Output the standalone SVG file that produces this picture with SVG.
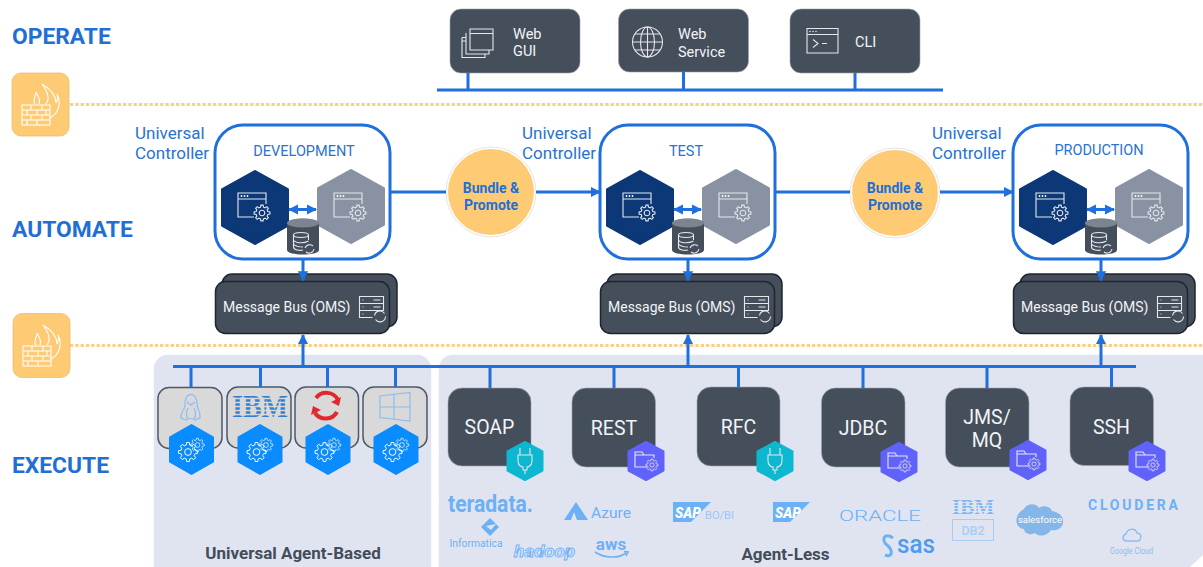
<svg xmlns="http://www.w3.org/2000/svg" xmlns:xlink="http://www.w3.org/1999/xlink" width="1203" height="567" viewBox="0 0 1203 567">
<style>
text{font-family:Roboto,"Liberation Sans",sans-serif}
.box{fill:#454e5b;stroke:#9aa2ad;stroke-width:.6}
.w{fill:#f2f4f7}
.mid{text-anchor:middle}
.head{fill:#1f6fd6;font-weight:700;font-size:22.8px}
.uc{fill:#2a72cf;font-size:17px}
.env{fill:#2a72cf;font-size:14.5px;text-anchor:middle}
.bp{fill:#1f6fd6;font-weight:700;font-size:14px;text-anchor:middle}
.bus{fill:#454e5b;stroke:#20262f;stroke-width:1.5}
.ln{stroke:#1f6fdc;stroke-width:3;fill:none}
.dot{stroke:#fdcf85;stroke-width:3;stroke-dasharray:3.3 2;fill:none}
.ic{fill:none;stroke:#e4e7ec;stroke-width:1.1;vector-effect:non-scaling-stroke}
.ics{fill:none;stroke:#fff;stroke-width:.8;vector-effect:non-scaling-stroke}
.logo{fill:#6cb0f6}
.lt{fill:none;stroke:#8dbcf0;stroke-width:1.2}
.tag{fill:#434c5a;font-weight:700;font-size:17px;text-anchor:middle}
.gb{fill:#d9d9d9;stroke:#4e5866;stroke-width:1.5}
</style>
<defs>
<marker id="ah" viewBox="0 0 10 10" refX="9" refY="5" markerWidth="3.4" markerHeight="3.4" orient="auto-start-reverse"><path d="M0 0L10 5L0 10Z" fill="#1f6fdc"/></marker>
<path id="gear" d="M5.82-1.45L7.92-1.11L7.92 1.11L5.82 1.45L5.14 3.09L6.39 4.81L4.81 6.39L3.09 5.14L1.45 5.82L1.11 7.92L-1.11 7.92L-1.45 5.82L-3.09 5.14L-4.81 6.39L-6.39 4.81L-5.14 3.09L-5.82 1.45L-7.92 1.11L-7.92-1.11L-5.82-1.45L-5.14-3.09L-6.39-4.81L-4.81-6.39L-3.09-5.14L-1.45-5.82L-1.11-7.92L1.11-7.92L1.45-5.82L3.09-5.14L4.81-6.39L6.39-4.81L5.14-3.09ZM2.8 0A2.8 2.8 0 1 0-2.8 0A2.8 2.8 0 1 0 2.8 0Z"/>
<g id="winGear">
<path d="M-1 12H-17V-12H11V-1M-17-6H11" class="ic"/>
<circle cx="-13.500" cy="-9" r=".9" fill="#fff"/><circle cx="-10.500" cy="-9" r=".9" fill="#fff"/><circle cx="-7.500" cy="-9" r=".9" fill="#fff"/>
<use xlink:href="#gear" class="ic" transform="translate(7,8)"/>
</g>
<path id="hexB" d="M0-36L32.500-18V18L0 36L-32.500 18V-18Z" stroke-width="3" stroke-linejoin="round"/>
<path id="hexA" d="M0-24.500L21.500-12.200V12.200L0 24.500L-21.500 12.200V-12.200Z" fill="#0a8cff" stroke="#0a8cff" stroke-width="2" stroke-linejoin="round"/>
<path id="hexS" d="M0-19L17.500-9.500V9.500L0 19L-17.500 9.500V-9.500Z" stroke-width="2" stroke-linejoin="round"/>
<g id="gears"><use xlink:href="#gear" class="ics" transform="translate(-3.500,2.500) scale(1.200)"/><use xlink:href="#gear" class="ics" transform="translate(6,-4.500) scale(.85)"/></g>
<g id="plug"><path class="ic" d="M-5-11V-4M5-11V-4M-7-4H7V2C7 6 4 8 2 8V11H-2V8C-4 8-7 6-7 2ZM0 11V15"/></g>
<g id="folder"><path class="ic" d="M2 8H-10V-7H-3L-1-4H9V-1M-10-4H-1"/><use xlink:href="#gear" class="ic" transform="translate(7,6) scale(.75)"/></g>
<g id="srv"><path class="ic" d="M0 0H24V7H0ZM0 7H24V14H0ZM0 14H14M0 14V21H13"/><path class="ic" d="M14 3.500H21M14 10.500H21M3 3.500H4M3 10.500H4M3 17.500H4"/><path class="ic" d="M15 19A5.500 5.500 0 0 1 25 17M26 20A5.500 5.500 0 0 1 16 23"/></g>
<g id="wallBricks"><path fill="none" stroke="#fff" stroke-width="1.1" d="M0 0H28V20H0ZM0 5H28M0 10H28M0 15H28M9 0V5M20 0V5M5 5V10M15 5V10M24 5V10M9 10V15M20 10V15M5 15V20M15 15V20"/><path fill="none" stroke="#fff" stroke-width="1.1" d="M24-1C28-6 26-13 20-21C30-15 34-8 34-2C36-6 36-9 35-11C39-4 38 9 27 13M13-1C10-5 14-8 14-13C16-9 19-5 17-1"/></g>
<g id="controller">
<rect x="215" y="125" width="175" height="134" rx="28" fill="#fff" stroke="#1f6fdc" stroke-width="3"/>
<use xlink:href="#hexB" transform="translate(255,207.500)" fill="#0c3878" stroke="#0c3878"/>
<use xlink:href="#hexB" transform="translate(351,206.500)" fill="#8892a3" stroke="#8892a3"/>
<use xlink:href="#winGear" transform="translate(255,205)"/>
<use xlink:href="#winGear" transform="translate(351,205)"/>
<path d="M287 224C287 217 319 217 319 224V250C319 256 287 256 287 250Z" fill="#454e5b"/>
<ellipse cx="303" cy="223" rx="16" ry="4.500" fill="#7c8490"/>
<g class="ic"><ellipse cx="301" cy="235" rx="7.500" ry="2.500"/><path d="M293.500 235V247C293.500 250 300 251 303 250M293.500 240C295 243 303 244 308.500 241M293.500 244C296 247 300 247 303 247M308.500 235V240"/><path d="M305 248A5 5 0 0 1 313 246M314 249A5 5 0 0 1 306 252"/></g>
</g>
<g id="msgbus">
<rect class="bus" x="222" y="274" width="175" height="53" rx="10"/>
<rect class="bus" x="215.500" y="281.500" width="174" height="52" rx="10"/>
<text x="223" y="311.500" class="w" font-size="14">Message Bus (OMS)</text>
<use xlink:href="#srv" transform="translate(359.500,296.500)"/>
</g>
<g id="bp"><circle r="45" fill="#fff" stroke="#d8d8d8" stroke-width=".7"/><circle r="43" fill="#fecb74"/></g>
</defs>

<g id="panels">
<rect x="153" y="354" width="279" height="230" rx="15" fill="#e0e4f1" stroke="#fff" stroke-width="1.500"/>
<rect x="438" y="354" width="790" height="230" rx="15" fill="#e0e4f1" stroke="#fff" stroke-width="1.500"/>
<path d="M1203 555L1190 567H1203Z" fill="#fff"/>
</g>
<g id="boundaries">
<path class="dot" d="M70 104.500H1203"/>
<path class="dot" d="M70 345.500H1203"/>
</g>

<g id="labels">
<text x="12" y="43.500" class="head">OPERATE</text>
<text x="12" y="237" class="head">AUTOMATE</text>
<text x="12" y="473" class="head">EXECUTE</text>
<text x="135" y="138.500" class="uc">Universal</text><text x="135" y="158.500" class="uc">Controller</text>
<text x="522" y="138.500" class="uc">Universal</text><text x="522" y="158.500" class="uc">Controller</text>
<text x="932" y="138.500" class="uc">Universal</text><text x="932" y="158.500" class="uc">Controller</text>
</g>

<g id="firewall-1"><rect x="12" y="73" width="57" height="63" rx="9" fill="#fecb74" stroke="#e8bd78" stroke-width=".8"/><use xlink:href="#wallBricks" transform="translate(22,105)"/></g>
<g id="firewall-2"><rect x="13" y="313.500" width="57" height="64" rx="9" fill="#fecb74" stroke="#e8bd78" stroke-width=".8"/><use xlink:href="#wallBricks" transform="translate(23,346)"/></g>

<g id="web-gui"><rect class="box" x="450" y="9" width="130" height="64" rx="11"/>
<path class="ic" d="M470 29H493V50H470ZM470 33.500H493M466 33V54H489V50M462 37.500V57.500H485V54M462 37.500H466M462 41H466"/>
<text x="513" y="38.500" class="w" font-size="14.500">Web</text><text x="513" y="56" class="w" font-size="14.500">GUI</text></g>
<g id="web-service"><rect class="box" x="618.500" y="9" width="130" height="63" rx="11"/>
<g class="ic"><circle cx="647.500" cy="42" r="15"/><ellipse cx="647.500" cy="42" rx="7" ry="15"/><path d="M647.500 27V57M632.500 42H662.500M635 34H660M635 50H660"/></g>
<text x="678" y="39" class="w" font-size="14.500">Web</text><text x="678" y="56.500" class="w" font-size="14.500">Service</text></g>
<g id="cli"><rect class="box" x="790" y="9" width="130" height="64" rx="11"/>
<path class="ic" d="M807 28.500H838V53H807ZM807 34.500H838M813 39.500L818 43.500L813 47.500M822 43.500H827"/>
<circle cx="810" cy="31.500" r=".7" fill="#fff"/><circle cx="813" cy="31.500" r=".7" fill="#fff"/><circle cx="816" cy="31.500" r=".7" fill="#fff"/>
<text x="855" y="47" class="w" font-size="14.500">CLI</text></g>

<g id="controller-dev"><use xlink:href="#controller"/><text x="304" y="156" class="env">DEVELOPMENT</text></g>
<g id="controller-test"><use xlink:href="#controller" x="385"/><text x="686" y="156" class="env">TEST</text></g>
<g id="controller-prod"><use xlink:href="#controller" x="798"/><text x="1099" y="155" class="env">PRODUCTION</text></g>

<g id="bundle-1"><use xlink:href="#bp" transform="translate(491,192)"/><text x="491" y="193" class="bp">Bundle &amp;</text><text x="491" y="209.500" class="bp">Promote</text></g>
<g id="bundle-2"><use xlink:href="#bp" transform="translate(895,193)"/><text x="895" y="193" class="bp">Bundle &amp;</text><text x="895" y="210" class="bp">Promote</text></g>

<g id="bus-dev"><use xlink:href="#msgbus"/></g>
<g id="bus-test"><use xlink:href="#msgbus" x="385"/></g>
<g id="bus-prod"><use xlink:href="#msgbus" x="798"/></g>

<g id="agent-linux"><rect class="gb" x="158" y="387.500" width="64" height="61" rx="11"/>
<path class="lt" d="M185 405C184 391 197 391 197 404C197 409 201 412 200 418L195 420C192 418 189 418 186 420L181 418C180 412 185 410 185 405ZM187 402L191 405L195 402M188 408C186 412 186 416 188 419M194 408C196 412 196 416 194 419"/>
<use xlink:href="#hexA" transform="translate(191.500,449.500)"/><use xlink:href="#gears" transform="translate(191.500,449.500)"/></g>
<g id="agent-ibm"><rect class="gb" x="227" y="387" width="64" height="61" rx="11"/>
<text x="260" y="417" class="mid" font-size="32" font-weight="700" textLength="56" lengthAdjust="spacingAndGlyphs" style="font-family:'Liberation Serif',serif" fill="#2f7fd2">IBM</text>
<path d="M230 398.500H290M230 402.500H290M230 406.500H290M230 410.500H290M230 414.500H290" stroke="#d9d9d9" stroke-width="1.300"/>
<use xlink:href="#hexA" transform="translate(260,449.500)"/><use xlink:href="#gears" transform="translate(260,449.500)"/></g>
<g id="agent-redhat"><rect class="gb" x="295" y="387" width="63.500" height="61" rx="11"/>
<path d="M316 398A13 13 0 0 1 338 400M337 412A13 13 0 0 1 315 413" fill="none" stroke="#e0282e" stroke-width="4"/>
<path d="M341 397L339 406L331 402ZM311 415L313 406L321 410Z" fill="#e0282e"/>
<use xlink:href="#hexA" transform="translate(328,449.500)"/><use xlink:href="#gears" transform="translate(328,449.500)"/></g>
<g id="agent-windows"><rect class="gb" x="363" y="387" width="64" height="61" rx="11"/>
<path class="lt" d="M380 396L410 392.500V421L380 417.500ZM394 394.500V419M380 407H410"/>
<use xlink:href="#hexA" transform="translate(396,449.500)"/><use xlink:href="#gears" transform="translate(396,449.500)"/></g>

<g id="soap"><rect class="box" x="448" y="388" width="83" height="78" rx="14"/><text x="489.500" y="433.500" class="w mid" font-size="19.500">SOAP</text>
<use xlink:href="#hexS" transform="translate(525,461)" fill="#0db7d0" stroke="#0db7d0"/><use xlink:href="#plug" transform="translate(525,459)"/></g>
<g id="rest"><rect class="box" x="572" y="388" width="83.500" height="79" rx="14"/><text x="614" y="434.500" class="w mid" font-size="19.500">REST</text>
<use xlink:href="#hexS" transform="translate(646,461)" fill="#6062fb" stroke="#6062fb"/><use xlink:href="#folder" transform="translate(645,459)"/></g>
<g id="rfc"><rect class="box" x="697" y="387" width="83" height="79" rx="14"/><text x="738.500" y="433.500" class="w mid" font-size="19.500">RFC</text>
<use xlink:href="#hexS" transform="translate(775,461)" fill="#0db7d0" stroke="#0db7d0"/><use xlink:href="#plug" transform="translate(775,459)"/></g>
<g id="jdbc"><rect class="box" x="821.500" y="388" width="83.500" height="79" rx="14"/><text x="863" y="434.500" class="w mid" font-size="19.500">JDBC</text>
<use xlink:href="#hexS" transform="translate(899,462)" fill="#6062fb" stroke="#6062fb"/><use xlink:href="#folder" transform="translate(898,460)"/></g>
<g id="jms"><rect class="box" x="945.500" y="388" width="83.500" height="79" rx="14"/><text x="987" y="423.500" class="w mid" font-size="19.500">JMS/</text><text x="987" y="446.500" class="w mid" font-size="19.500">MQ</text>
<use xlink:href="#hexS" transform="translate(1028,460)" fill="#6062fb" stroke="#6062fb"/><use xlink:href="#folder" transform="translate(1027,458)"/></g>
<g id="ssh"><rect class="box" x="1070" y="387" width="83.500" height="78.500" rx="14"/><text x="1111.500" y="433.500" class="w mid" font-size="19.500">SSH</text>
<use xlink:href="#hexS" transform="translate(1147,461)" fill="#6062fb" stroke="#6062fb"/><use xlink:href="#folder" transform="translate(1146,459)"/></g>

<g id="logos">
<text x="448" y="512" class="logo" font-size="23" font-weight="700" textLength="85" lengthAdjust="spacingAndGlyphs">teradata.</text>
<path d="M490 518L499 527L490 536L481 527Z" class="logo"/><path d="M486 526L496 524L491 530Z" fill="#e0e4f1"/>
<text x="449.500" y="547" class="logo" font-size="10" textLength="53" lengthAdjust="spacingAndGlyphs">Informatica</text>
<text x="514" y="557" font-size="16" font-weight="700" font-style="italic" fill="#e0e4f1" stroke="#6cb0f6" stroke-width=".8" textLength="61" lengthAdjust="spacingAndGlyphs">hadoop</text>
<path d="M564 520L576 502L588 520H577L574 512L571 520Z" class="logo"/>
<text x="591" y="518" class="logo" font-size="15" textLength="40" lengthAdjust="spacingAndGlyphs">Azure</text>
<text x="611" y="549.500" class="logo mid" font-size="17" font-weight="700">aws</text>
<path d="M595 552C604 558 618 559 626 553M624 551.500L628 552L626 556" fill="none" stroke="#6cb0f6" stroke-width="1.600"/>
<path d="M673 502H711L691 522H673Z" class="logo"/><text x="675" y="518" fill="#fff" font-size="15" font-weight="900" font-style="italic" textLength="26" lengthAdjust="spacingAndGlyphs">SAP</text>
<text x="705" y="519" font-size="11" fill="#9cc4f2" textLength="29" lengthAdjust="spacingAndGlyphs">BO/BI</text>
<path d="M773 502H810L790 522H773Z" class="logo"/><text x="775" y="518" fill="#fff" font-size="15" font-weight="900" font-style="italic" textLength="26" lengthAdjust="spacingAndGlyphs">SAP</text>
<text x="839" y="520.500" class="logo" font-size="15" font-weight="300" textLength="82" lengthAdjust="spacingAndGlyphs">ORACLE</text>
<path d="M893 538C884 532 881 540 887 545C893 550 893 558 885 555" fill="none" stroke="#6cb0f6" stroke-width="3"/>
<text x="897" y="553" fill="#4d9bf0" font-size="25" font-weight="500" textLength="38" lengthAdjust="spacingAndGlyphs">sas</text>
<text x="973" y="514" class="mid" font-size="21" font-weight="700" textLength="42" lengthAdjust="spacingAndGlyphs" style="font-family:'Liberation Serif',serif" fill="#7eb8f3">IBM</text>
<path d="M950 502.500H996M950 505.500H996M950 508.500H996M950 511.500H996" stroke="#e0e4f1" stroke-width=".9"/>
<rect x="952.500" y="519.500" width="41" height="21" fill="none" stroke="#a8ccf3" stroke-width="1"/>
<text x="973" y="535" class="mid" font-size="12.500" font-weight="500" fill="#a8ccf3">DB2</text>
<path d="M1024 509C1027 503 1036 503 1039 508C1043 505 1050 506 1052 511C1059 512 1064 517 1063 523C1062 529 1056 531 1051 530C1048 535 1040 538 1035 533C1030 536 1024 533 1024 529C1018 529 1015 522 1017 517C1018 513 1021 511 1024 509Z" fill="#84b6ea"/>
<text x="1040" y="523" class="mid" fill="#fff" font-size="9.500">salesforce</text>
<text x="1088" y="509.500" class="logo" font-size="14" font-weight="700" textLength="90">CLOUDERA</text>
<path d="M1127 541C1122 541 1122 535 1126 534C1127 529 1135 527 1137 533C1142 533 1142 541 1137 541Z" fill="none" stroke="#8dbcf0" stroke-width="1.500"/>
<text x="1110" y="554" fill="#8dbcf0" font-size="8.500" textLength="43" lengthAdjust="spacingAndGlyphs">Google Cloud</text>
</g>
<text x="293" y="558.500" class="tag">Universal Agent-Based</text>
<text x="785.500" y="559.500" class="tag">Agent-Less</text>

<g id="connectors">
<path class="ln" d="M437 90H943M468 73V90M683.500 72V90M855 73V90"/>
<path class="ln" d="M390 192H446"/>
<path class="ln" d="M536 192H600" marker-end="url(#ah)"/>
<path class="ln" d="M775 192H850"/>
<path class="ln" d="M940 192H1013" marker-end="url(#ah)"/>
<path class="ln" d="M289 209.500H316" marker-start="url(#ah)" marker-end="url(#ah)"/>
<path class="ln" d="M674 209.500H701" marker-start="url(#ah)" marker-end="url(#ah)"/>
<path class="ln" d="M1087 209.500H1114" marker-start="url(#ah)" marker-end="url(#ah)"/>
<path class="ln" d="M303 259V280.500" marker-end="url(#ah)"/>
<path class="ln" d="M688 259V280.500" marker-end="url(#ah)"/>
<path class="ln" d="M1101 259V280.500" marker-end="url(#ah)"/>
<path class="ln" d="M303 366V335" marker-end="url(#ah)"/>
<path class="ln" d="M688 366V335" marker-end="url(#ah)"/>
<path class="ln" d="M1101 366V335" marker-end="url(#ah)"/>
<path class="ln" d="M173 366.500H1136"/>
<path class="ln" d="M191 366V387M260.500 366V387M327.500 366V387M395.500 366V387M490 366V388M614 366V388M738.500 366V387M863 366V388M987 366V388M1111.500 366V387"/>
</g>
</svg>
